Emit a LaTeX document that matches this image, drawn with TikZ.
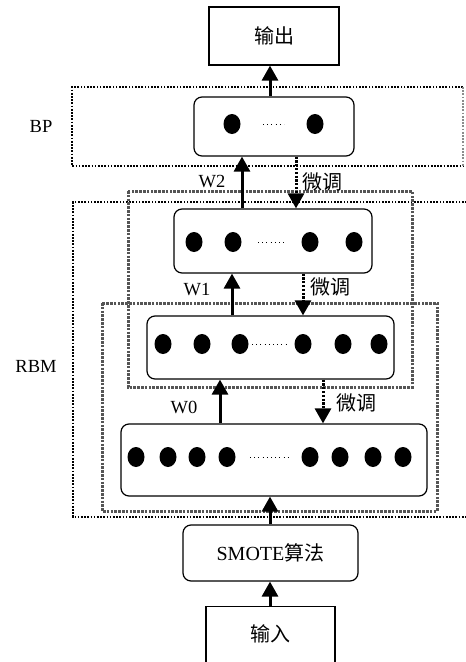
\documentclass[tikz,border=0pt]{standalone}
\usepackage{fontspec}
\setmainfont{Liberation Serif}
\newfontfamily\cjk{Noto Sans CJK SC}
\usetikzlibrary{arrows.meta,positioning,calc}
\definecolor{frameG}{RGB}{85,85,85}
\definecolor{ink}{RGB}{0,0,0}

\begin{document}
\begin{tikzpicture}[x=1pt,y=-1pt,
    layer/.style={draw=ink,line width=1.2pt,rounded corners=8pt,fill=white,inner sep=0pt},
    plain/.style={draw=ink,line width=1.2pt,fill=white,inner sep=0pt,font=\cjk\fontsize{20}{22}\selectfont},
    up/.style={line width=3pt,-{Triangle[width=16pt,length=15pt]}},
    tune/.style={line width=3pt,dash pattern=on 2.2pt off 1.6pt,-{Triangle[width=16pt,length=15pt]}},
    blkbox/.style={line width=1.7pt,dash pattern=on 1.7pt off 1.5pt},
    grybox/.style={frameG,line width=3pt,dash pattern=on 2.6pt off 1.2pt},
    lbl/.style={font=\fontsize{18.5}{20}\selectfont},
    cjklbl/.style={font=\cjk\fontsize{20}{22}\selectfont}]
  \useasboundingbox (0,0) rectangle (466,662);
  \clip (0,0) rectangle (466,662);
  % module frames
  \draw[blkbox] (463,87) -- (72,87) -- (72,166) -- (463,166);
  \draw[blkbox,ink!45] (463,87) -- (463,166);
  \draw[blkbox] (470,202) -- (73,202) -- (73,517) -- (470,517);
  \draw[grybox] (128,191) rectangle (412,387);
  \draw[grybox] (102,303) rectangle (437,511);
  \node[lbl] at (41,126) {BP};
  \node[lbl] at (36,366) {RBM};
  % layers
  \node[plain,minimum width=130pt,minimum height=58pt] (out) at (274,36) {输出};
  \node[layer,minimum width=160pt,minimum height=59pt] (bp) at (274,126.5) {};
  \node[layer,minimum width=198pt,minimum height=64pt] (hidB) at (273,241) {};
  \node[layer,minimum width=247pt,minimum height=63pt] (hidA) at (270.5,347.5) {};
  \node[layer,minimum width=306pt,minimum height=72pt] (vis) at (274,460) {};
  \node[layer,minimum width=175pt,minimum height=56pt,font=\fontsize{20}{22}\selectfont] (smote) at (270.5,553) {SMOTE{\cjk 算法}};
  \node[plain,minimum width=129pt,minimum height=76pt,anchor=north] (inp) at (270.5,606) {};
  \node[cjklbl] at (270.5,634) {输入};
  % units
  \foreach \u in {232,315} \fill (\u,124) ellipse (8.5pt and 10pt);
  \foreach \u in {194,233,310,354} \fill (\u,242) ellipse (8.5pt and 10pt);
  \foreach \u in {163,202,240,303,343,379} \fill (\u,344) ellipse (8.5pt and 10pt);
  \foreach \u in {136,168,197,227,310,340,373,403} \fill (\u,457) ellipse (8.5pt and 10pt);
  \draw[line width=1pt,dash pattern=on 1pt off 3.2pt] (263,124) -- (284,124);
  \draw[line width=1pt,dash pattern=on 1pt off 3.2pt] (258,242) -- (287,242);
  \draw[line width=1pt,dash pattern=on 1pt off 3.2pt] (252,344) -- (288,344);
  \draw[line width=1pt,dash pattern=on 1pt off 3.2pt] (250,457) -- (290,457);
  % arrow columns
  \coordinate (mid) at (270,0);
  \coordinate (wA) at (220,0);
  \coordinate (wB) at (232,0);
  \coordinate (wC) at (242,0);
  \coordinate (tA) at (323,0);
  \coordinate (tB) at (303,0);
  \coordinate (tC) at (296,0);
  \draw[up] (mid |- inp.north) -- (mid |- smote.south);
  \draw[up] (mid |- smote.north) -- (mid |- vis.south);
  \draw[up] (wA |- vis.north) -- (wA |- hidA.south);
  \draw[up] (wB |- hidA.north) -- (wB |- hidB.south);
  \draw[up] (wC |- hidB.north) -- (wC |- bp.south);
  \draw[up] (mid |- bp.north) -- (mid |- out.south);
  \draw[tune] (tC |- bp.south) -- (tC |- hidB.north);
  \draw[tune] (tB |- hidB.south) -- (tB |- hidA.north);
  \draw[tune] (tA |- hidA.south) -- (tA |- vis.north);
  \node[lbl] at (212,182) {W2};
  \node[lbl] at (197,290) {W1};
  \node[lbl] at (184,407) {W0};
  \node[cjklbl] at (322,182) {微调};
  \node[cjklbl] at (330,287) {微调};
  \node[cjklbl] at (356,403) {微调};
\end{tikzpicture}
\end{document}
